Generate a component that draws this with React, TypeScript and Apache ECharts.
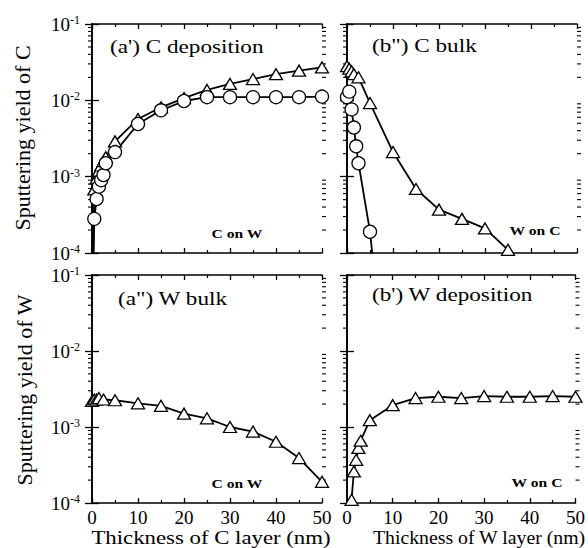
import React, { useEffect, useRef } from 'react';
import * as echarts from 'echarts';

// ---- data (sputtering yields) ----
const cDepX = [0, 0.5, 1, 1.5, 2, 2.5, 3, 5, 10, 15, 20, 25, 30, 35, 40, 45, 50];
const cDepTri = [1e-5, 6.8e-4, 9.5e-4, 1.2e-3, 1.4e-3, 1.6e-3, 1.8e-3, 2.9e-3, 5.7e-3, 8.1e-3, 1.07e-2, 1.37e-2, 1.64e-2, 1.9e-2, 2.2e-2, 2.45e-2, 2.7e-2];
const cDepCir = [1e-5, 2.8e-4, 5.1e-4, 7.4e-4, 9.0e-4, 1.05e-3, 1.5e-3, 2.1e-3, 4.9e-3, 7.4e-3, 9.8e-3, 1.1e-2, 1.1e-2, 1.1e-2, 1.1e-2, 1.1e-2, 1.12e-2];

const cBulkTriX = [0, 0.5, 1, 1.5, 2.5, 5, 10, 15, 20, 25, 30, 35];
const cBulkTri = [2.8e-2, 2.6e-2, 2.4e-2, 2.2e-2, 2.0e-2, 9.2e-3, 2.1e-3, 6.9e-4, 3.7e-4, 2.8e-4, 2.1e-4, 1.1e-4];
const cBulkCirX = [0, 0.5, 1, 1.5, 2, 2.5, 5, 6];
const cBulkCir = [1.1e-2, 1.3e-2, 7.6e-3, 4.4e-3, 2.5e-3, 1.5e-3, 1.9e-4, 5e-5];

const wBulkX = [0, 0.5, 1, 1.5, 2.5, 5, 10, 15, 20, 25, 30, 35, 40, 45, 50];
const wBulk = [2.2e-3, 2.3e-3, 2.3e-3, 2.4e-3, 2.3e-3, 2.25e-3, 2.05e-3, 1.9e-3, 1.5e-3, 1.3e-3, 1.0e-3, 8.7e-4, 6.4e-4, 3.9e-4, 1.9e-4];

const wDepX = [0, 1, 1.5, 2, 2.5, 3, 5, 10, 15, 20, 25, 30, 35, 40, 45, 50];
const wDep = [1e-5, 1.1e-4, 2.6e-4, 3.7e-4, 5.3e-4, 6.6e-4, 1.23e-3, 1.94e-3, 2.4e-3, 2.5e-3, 2.4e-3, 2.55e-3, 2.5e-3, 2.5e-3, 2.55e-3, 2.5e-3];

const decadeExps = [-4, -3, -2, -1];
const minorMultipliers = [2, 3, 4, 5, 6, 7, 8, 9];
const xMin = 0;
const xMax = 50;

const panelTitles = ["(a') C deposition", '(b") C bulk', '(a") W bulk', "(b') W deposition"];
const panelNotes = ['C on W', 'W on C', 'C on W', 'W on C'];
const yTitles = ['Sputtering yield of C', 'Sputtering yield of W'];
const xTitles = ['Thickness of C layer (nm)', 'Thickness of W layer (nm)'];

const FONT = "'Liberation Serif', serif";

function buildOption() {
  const grids = [
    { left: 92, top: 24, width: 230, height: 229 },
    { left: 347, top: 24, width: 230, height: 229 },
    { left: 92, top: 275, width: 230, height: 228 },
    { left: 347, top: 275, width: 230, height: 228 },
  ];
  const minorVals: number[] = [];
  decadeExps.slice(0, 3).forEach((n) => minorMultipliers.forEach((k) => minorVals.push(n + Math.log10(k))));
  const yMin = decadeExps[0];
  const yMax = decadeExps[decadeExps.length - 1];
  const axisLine = { show: true, lineStyle: { color: '#000', width: 1.6 } };

  const xAxis: any[] = [];
  const yAxis: any[] = [];
  grids.forEach((g, i) => {
    const base = {
      type: 'value', gridIndex: i, min: xMin, max: xMax, interval: 10,
      axisLine, splitLine: { show: false },
      axisTick: { show: true, inside: true, length: 5, lineStyle: { color: '#000', width: 1.3 } },
      minorTick: { show: true, splitNumber: 2, length: 3, lineStyle: { color: '#000', width: 1.2 } },
    };
    xAxis.push({
      ...base, position: 'bottom',
      axisLabel: { show: i >= 2, color: '#000', fontFamily: FONT, fontSize: 19, margin: 5 },
    });
    xAxis.push({ ...base, position: 'top', axisLabel: { show: false } });

    const yBase = { type: 'value', gridIndex: i, min: yMin, max: yMax, interval: 1, splitLine: { show: false } };
    yAxis.push({
      ...yBase, position: 'left', axisLine,
      axisTick: { show: true, inside: false, length: 7, lineStyle: { color: '#000', width: 1.3 } },
      axisLabel: {
        show: i % 2 === 0, margin: 12,
        formatter: (v: number) => `{b|10}{s|${v}}`,
        rich: {
          b: { fontFamily: FONT, fontSize: 19, color: '#000', lineHeight: 20 },
          s: { fontFamily: FONT, fontSize: 12, color: '#000', verticalAlign: 'top', lineHeight: 12 },
        },
      },
    });
    yAxis.push({
      ...yBase, position: 'right', axisLine, axisLabel: { show: false },
      axisTick: { show: true, inside: false, length: 7, lineStyle: { color: '#000', width: 1.3 } },
    });
  });

  const panels = [
    [{ x: cDepX, y: cDepTri, sym: 'triangle' }, { x: cDepX, y: cDepCir, sym: 'circle' }],
    [{ x: cBulkTriX, y: cBulkTri, sym: 'triangle' }, { x: cBulkCirX, y: cBulkCir, sym: 'circle' }],
    [{ x: wBulkX, y: wBulk, sym: 'triangle' }],
    [{ x: wDepX, y: wDep, sym: 'triangle' }],
  ];
  const series: any[] = [];
  panels.forEach((list, g) => {
    // minor (logarithmic) ticks on both y axes, placed through the axis scale
    series.push({
      type: 'custom',
      xAxisIndex: 2 * g,
      yAxisIndex: 2 * g,
      silent: true,
      clip: false,
      z: 1,
      data: minorVals.map((v) => [xMin, v]),
      renderItem: (params: any, api: any) => {
        const v = api.value(1);
        const pl = api.coord([xMin, v]);
        const pr = api.coord([xMax, v]);
        return {
          type: 'group',
          children: [
            { type: 'line', shape: { x1: pl[0] - 4, y1: pl[1], x2: pl[0], y2: pl[1] }, style: { stroke: '#000', lineWidth: 1.1 } },
            { type: 'line', shape: { x1: pr[0], y1: pr[1], x2: pr[0] + 4, y2: pr[1] }, style: { stroke: '#000', lineWidth: 1.1 } },
          ],
        };
      },
    });
    list.forEach((s) => {
      series.push({
        type: 'line',
        xAxisIndex: 2 * g,
        yAxisIndex: 2 * g,
        data: s.x.map((xv, i) => [xv, Math.log10(s.y[i])]),
        symbol: s.sym,
        symbolSize: s.sym === 'triangle' ? [13, 11] : 13,
        showSymbol: true,
        clip: true,
        silent: true,
        z: 3,
        lineStyle: { color: '#000', width: 1.8 },
        itemStyle: { color: '#fff', borderColor: '#000', borderWidth: 1.3 },
      });
    });
  });

  const titlePos = [
    { x: 110, y: 47 },
    { x: 372, y: 46 },
    { x: 118, y: 299 },
    { x: 372, y: 295 },
  ];
  const notePos = [
    { x: 237, y: 233 },
    { x: 535, y: 230 },
    { x: 237, y: 483 },
    { x: 537, y: 482 },
  ];
  const graphic: any[] = [];
  panelTitles.forEach((t, i) => {
    graphic.push({
      type: 'text', x: titlePos[i].x, y: titlePos[i].y, scaleX: 1.22, silent: true,
      style: { text: t, fontFamily: 'Liberation Serif', fontSize: 19, fill: '#000', textAlign: 'left', textVerticalAlign: 'middle' },
    });
  });
  panelNotes.forEach((t, i) => {
    graphic.push({
      type: 'text', x: notePos[i].x, y: notePos[i].y, scaleX: 1.2, silent: true,
      style: { text: t, fontFamily: 'Liberation Serif', fontSize: 13, fontWeight: 'bold', fill: '#000', textAlign: 'center', textVerticalAlign: 'middle' },
    });
  });
  [{ x: 22, y: 138 }, { x: 24, y: 390 }].forEach((p, i) => {
    graphic.push({
      type: 'text', x: p.x, y: p.y, rotation: Math.PI / 2, silent: true,
      style: { text: yTitles[i], fontFamily: 'Liberation Serif', fontSize: 22, fill: '#000', textAlign: 'center', textVerticalAlign: 'middle' },
    });
  });
  graphic.push({
    type: 'text', x: 211, y: 538, scaleX: 1.2, silent: true,
    style: { text: xTitles[0], fontFamily: 'Liberation Serif', fontSize: 19, fill: '#000', textAlign: 'center', textVerticalAlign: 'middle' },
  });
  graphic.push({
    type: 'text', x: 373, y: 538, scaleX: 1.04, silent: true,
    style: { text: xTitles[1], fontFamily: 'Liberation Serif', fontSize: 19, fill: '#000', textAlign: 'left', textVerticalAlign: 'middle' },
  });

  return {
    animation: false,
    backgroundColor: '#fff',
    textStyle: { fontFamily: FONT },
    grid: grids.map((g) => ({ ...g, containLabel: false })),
    xAxis,
    yAxis,
    series,
    graphic,
  };
}

export default function App() {
  const ref = useRef<HTMLDivElement>(null);
  useEffect(() => {
    if (!ref.current) return;
    const chart = echarts.init(ref.current, null, { renderer: 'svg' });
    chart.setOption(buildOption() as any);
    return () => chart.dispose();
  }, []);
  return (
    <div
      ref={ref}
      style={{ position: 'absolute', left: 0, top: 0, width: 588, height: 548, background: '#fff' }}
    />
  );
}
